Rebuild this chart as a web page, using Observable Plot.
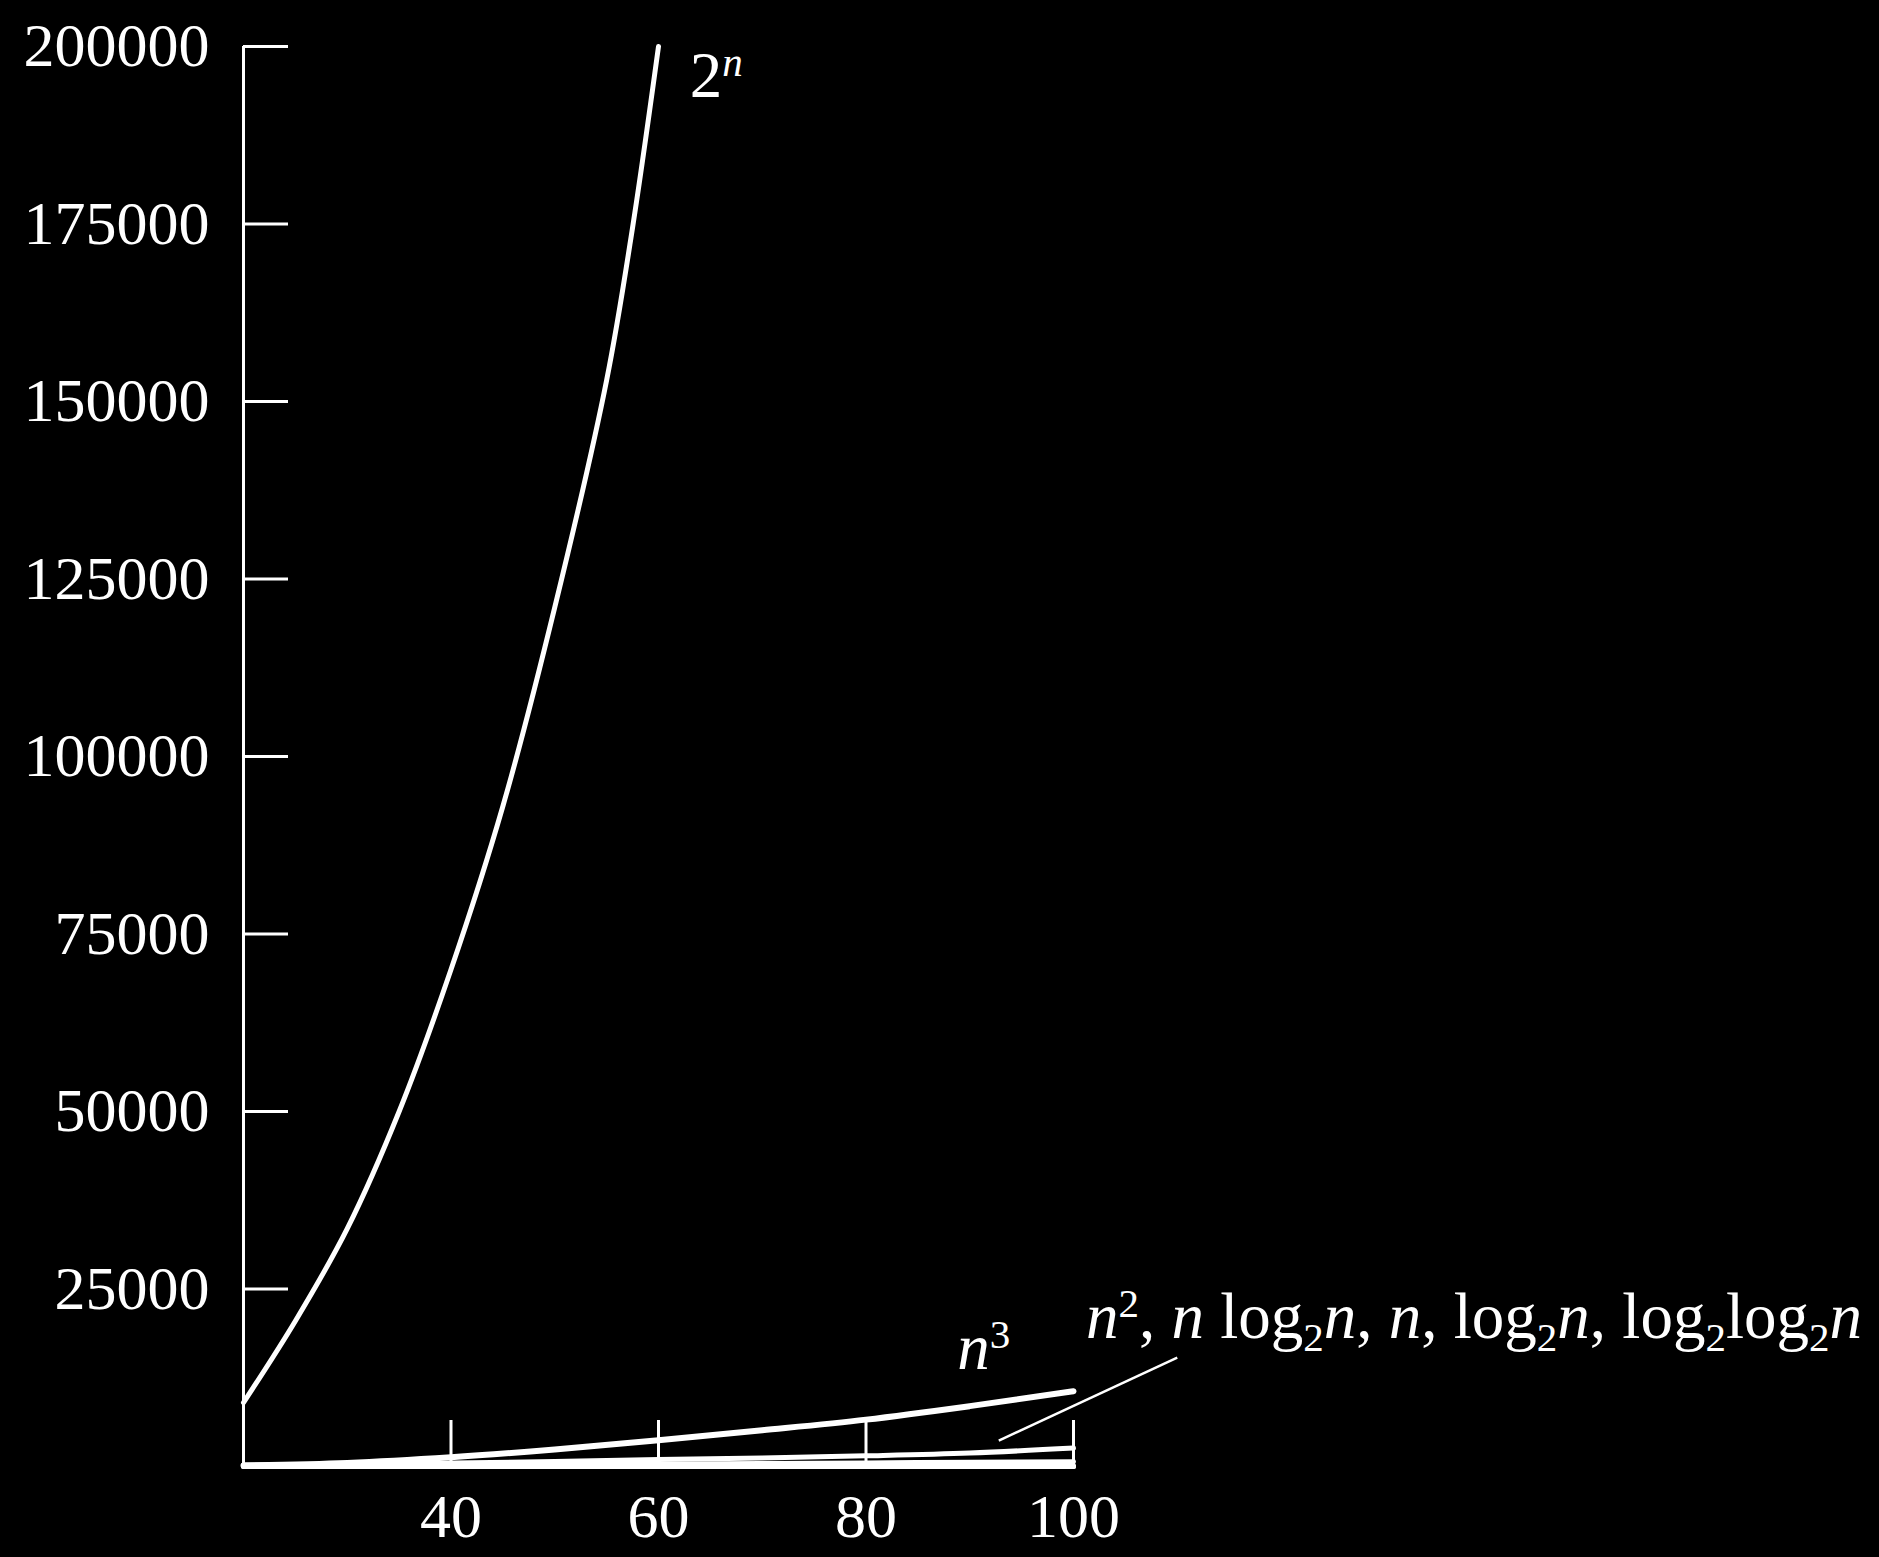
<!DOCTYPE html>
<html><head><meta charset="utf-8">
<script src="https://cdn.jsdelivr.net/npm/d3@7"></script>
<script src="https://cdn.jsdelivr.net/npm/@observablehq/plot@0.6"></script>
<style>html,body{margin:0;padding:0;background:#000;} svg{display:block}</style>
</head><body><div id="chart"></div>
<script>
// 2^n curve
const nExp = [20, 25, 30, 35, 40, 45, 50, 55, 57.5, 60];
const vExp = [9000, 20500, 33500, 50000, 70000, 93000, 121000, 153000, 174500, 200000];
// polynomial / log curves
const nPoly = [20, 30, 40, 50, 60, 70, 80, 90, 100];
const vCube = [150, 500, 1300, 2400, 3700, 5100, 6600, 8500, 10600];
const vSquare = [200, 300, 500, 700, 1000, 1200, 1500, 1900, 2600];
const vNLogN = [90, 150, 210, 280, 350, 430, 510, 590, 660];
const vN = [20, 30, 40, 50, 60, 70, 80, 90, 100];
const vLogN = [4, 5, 5, 6, 6, 6, 6, 6, 7];
const vLogLogN = [2, 2, 2, 3, 3, 3, 3, 3, 3];
// ticks
const xTicks = [40, 60, 80, 100];
const yTicks = [25000, 50000, 75000, 100000, 125000, 150000, 175000, 200000];
// annotations
const labelText = ["2^n", "n^3", "n^2, n log_2n, n, log_2n, log_2log_2n"];
const labelX = [63.0, 88.8, 101.2];
const labelY = [192900, 13800, 18030];
const leaderX = [92.8, 110.0];
const leaderY = [3660, 15350];

const richSpec = {
  "2^n": [["2", ""], ["n", "i^"]],
  "n^3": [["n", "i"], ["3", "^"]],
  "n^2, n log_2n, n, log_2n, log_2log_2n": [
    ["n", "i"], ["2", "^"], [", ", ""], ["n", "i"], [" log", ""], ["2", "_"], ["n", "i"],
    [", ", ""], ["n", "i"], [", log", ""], ["2", "_"], ["n", "i"], [", log", ""], ["2", "_"],
    ["log", ""], ["2", "_"], ["n", "i"]
  ]
};

const expData = nExp.map((x, i) => ({x, y: vExp[i]}));
const cubeData = nPoly.map((x, i) => ({x, y: vCube[i]}));
const lowSeries = [["n2", vSquare], ["nlogn", vNLogN], ["n", vN], ["logn", vLogN], ["loglogn", vLogLogN]];
const lowData = lowSeries.flatMap(([k, v]) => nPoly.map((x, i) => ({k, x, y: v[i]})));
const labels = labelText.map((t, i) => ({t, x: labelX[i], y: labelY[i]}));
const leader = [{x1: leaderX[0], y1: leaderY[0], x2: leaderX[1], y2: leaderY[1]}];

const FONT = "'Liberation Serif', 'Times New Roman', serif";

const chart = Plot.plot({
  width: 1879, height: 1557,
  marginLeft: 243, marginRight: 806, marginTop: 46, marginBottom: 91,
  style: {background: "#000", color: "#fff", fontFamily: FONT, fontSize: "62px"},
  x: {domain: [20, 100]},
  y: {domain: [0, 200000]},
  marks: [
    Plot.axisY(yTicks, {anchor: "left", tickSize: -45, tickPadding: 79, strokeWidth: 3,
      fontSize: 62, tickFormat: d => String(d), label: null}),
    Plot.axisX(xTicks, {anchor: "bottom", tickSize: -46, tickPadding: 72, strokeWidth: 3,
      fontSize: 62, tickFormat: d => String(d), label: null}),
    Plot.ruleX([20], {y1: 0, y2: 200000, stroke: "white", strokeWidth: 3}),
    Plot.ruleY([0], {x1: 20, x2: 100, stroke: "white", strokeWidth: 3}),
    Plot.line(lowData, {x: "x", y: "y", z: "k", stroke: "white", strokeWidth: 5, curve: "monotone-x"}),
    Plot.line(cubeData, {x: "x", y: "y", stroke: "white", strokeWidth: 6, curve: "monotone-x"}),
    Plot.line(expData, {x: "x", y: "y", stroke: "white", strokeWidth: 5, curve: "catmull-rom"}),
    Plot.link(leader, {x1: "x1", y1: "y1", x2: "x2", y2: "y2", stroke: "white", strokeWidth: 2.5}),
    Plot.text(labels, {x: "x", y: "y", text: "t", textAnchor: "start", lineAnchor: "bottom",
      fill: "white", fontSize: 65})
  ]
});

document.getElementById("chart").appendChild(chart);

// rich formatting (italic n, super/subscripts) as real text tspans
const NS = "http://www.w3.org/2000/svg";
chart.querySelectorAll("text").forEach(el => {
  const segs = richSpec[el.textContent];
  if (!segs) return;
  el.textContent = "";
  let shift = 0;
  for (const [t, s] of segs) {
    const ts = document.createElementNS(NS, "tspan");
    ts.textContent = t;
    if (s.includes("i")) ts.setAttribute("font-style", "italic");
    const target = s.includes("^") ? -21 : s.includes("_") ? 13 : 0;
    if (target !== shift) { ts.setAttribute("dy", target - shift); shift = target; }
    if (target !== 0) ts.setAttribute("font-size", 41);
    el.appendChild(ts);
  }
});
</script>
</body></html>
